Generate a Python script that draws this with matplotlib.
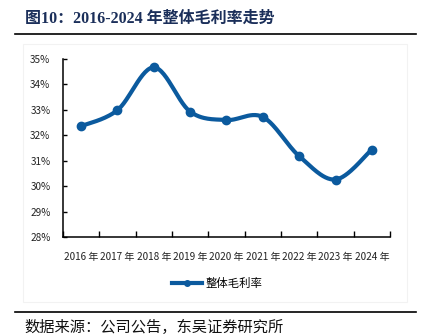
import numpy as np
import matplotlib.pyplot as plt
from matplotlib.lines import Line2D
from matplotlib.patches import Rectangle

years = ["2016 年", "2017 年", "2018 年", "2019 年", "2020 年", "2021 年", "2022 年", "2023 年", "2024 年"]
gross_margin = [32.36, 32.99, 34.67, 32.93, 32.60, 32.72, 31.18, 30.26, 31.44]
y_ticks = [28, 29, 30, 31, 32, 33, 34, 35]
series_name = "整体毛利率"
title = "图10：2016-2024 年整体毛利率走势"
source = "数据来源：公司公告，东吴证券研究所"

LINE = "#0B5A9E"
NAVY = "#1B2F5A"
CJK = ["Noto Sans CJK SC", "DejaVu Sans"]


def smooth(x, y, n=30):
    # excel-like smoothed line: bezier segments with catmull-rom control points
    x = np.asarray(x, float)
    y = np.asarray(y, float)
    px = np.concatenate([[x[0]], x, [x[-1]]])
    py = np.concatenate([[y[0]], y, [y[-1]]])
    xs, ys = [], []
    t = np.linspace(0, 1, n)
    for i in range(1, len(px) - 2):
        p0 = np.array([px[i], py[i]])
        p3 = np.array([px[i + 1], py[i + 1]])
        c1 = p0 + (p3 - np.array([px[i - 1], py[i - 1]])) / 6
        c2 = p3 - (np.array([px[i + 2], py[i + 2]]) - p0) / 6
        b = ((1 - t) ** 3)[:, None] * p0 + (3 * (1 - t) ** 2 * t)[:, None] * c1 \
            + (3 * (1 - t) * t ** 2)[:, None] * c2 + (t ** 3)[:, None] * p3
        xs.append(b[:, 0])
        ys.append(b[:, 1])
    return np.concatenate(xs), np.concatenate(ys)


plt.rcParams['font.family'] = CJK

W, H = 424, 336
fig = plt.figure(figsize=(W / 100, H / 100), dpi=100)
fig.patch.set_facecolor("white")

# faint chart-area frame
fig.add_artist(Rectangle((23 / W, 1 - 302 / H), (407 - 23) / W, (302 - 44) / H,
                         transform=fig.transFigure, fill=False, ec="#F2F2F2", lw=0.8))

# title and rules
fig.text(25 / W, 1 - 19 / H, title, fontsize=11.5, fontweight="bold", color=NAVY,
         family=["Liberation Serif", "Noto Sans CJK SC"], va="center", ha="left")
fig.add_artist(Line2D([15 / W, 416 / W], [1 - 33.5 / H] * 2, color="black", lw=1.2))
fig.add_artist(Line2D([15 / W, 416 / W], [1 - 312 / H] * 2, color="black", lw=1.2))
fig.text(24 / W, 1 - 327 / H, source, fontsize=11, color="#111111", fontweight="light",
         va="center", ha="left")

ax = fig.add_axes([63 / W, 1 - 237 / H, (390 - 63) / W, (237 - 59) / H])
xpos = np.arange(len(years))
sx, sy = smooth(xpos, gross_margin)
ax.plot(sx, sy, color=LINE, lw=3, solid_capstyle="round")
ax.plot(xpos, gross_margin, "o", color=LINE, ms=6)

ax.set_xlim(-0.5, len(years) - 0.5)
ax.set_ylim(28, 35)
ax.set_yticks(y_ticks)
ax.set_yticklabels([f"{v}%" for v in y_ticks])
ax.set_xticks(xpos)
ax.set_xticklabels(years)
ax.set_xticks(np.arange(len(years) + 1) - 0.5, minor=True)
ax.tick_params(axis="x", which="major", length=0, pad=11, labelsize=7.2, colors="#222222")
ax.tick_params(axis="x", which="minor", direction="in", length=4, width=1, color="black")
ax.tick_params(axis="y", direction="in", length=3, width=1, color="black", pad=9,
               labelsize=7.2, labelcolor="#222222")
for s in ["top", "right"]:
    ax.spines[s].set_visible(False)
ax.spines["left"].set_linewidth(1.1)
ax.spines["bottom"].set_linewidth(1.1)

handle = Line2D([], [], color=LINE, lw=3, marker="o", ms=4)
fig.legend([handle], [series_name], loc="center", bbox_to_anchor=(217 / W, 1 - 283 / H),
           frameon=False, fontsize=8.2, handlelength=2.6, handletextpad=0.3)

fig.savefig("out.png", dpi=100)
